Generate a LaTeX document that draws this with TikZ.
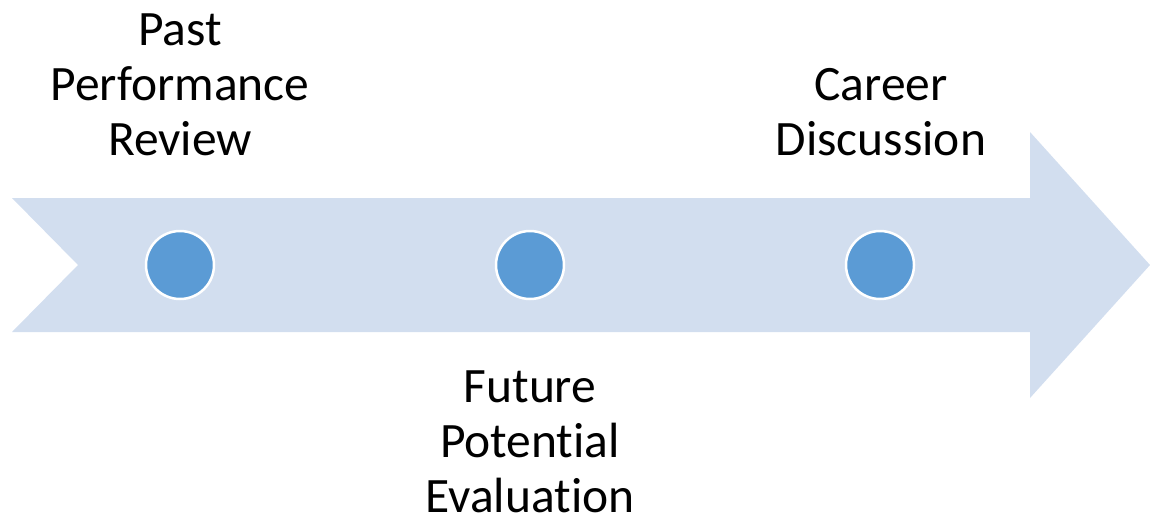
\documentclass[tikz,border=0pt]{standalone}
\usepackage{fontspec}
\setmainfont{Carlito}[Ligatures={NoCommon}]
\definecolor{arrowfill}{HTML}{D2DEEF}
\definecolor{dotfill}{HTML}{5B9BD5}
\begin{document}
\begin{tikzpicture}[x=1pt,y=-1pt,
  dot/.style={circle,fill=dotfill,draw=white,line width=2.5pt,minimum size=68pt,inner sep=0pt},
  lbl/.style={align=center,anchor=base,font=\fontsize{49.5}{55}\selectfont,inner sep=0pt}]
\useasboundingbox (0,0) rectangle (1150,523);
\fill[arrowfill] (12,198) -- (1030,198) -- (1030,132) -- (1150,265) -- (1030,398) -- (1030,332) -- (12,332) -- (78,265) -- cycle;
\node[dot] (d1) at (180,265) {};
\node[dot] (d2) at (530,265) {};
\node[dot] (d3) at (880,265) {};
\node[lbl] (t1) at (180,155) {Past\\Performance\\Review};
\node[lbl] (t2) at (530,512) {Future\\Potential\\Evaluation};
\node[lbl] (t3) at (881,155) {Career\\Discussion};
\end{tikzpicture}
\end{document}
